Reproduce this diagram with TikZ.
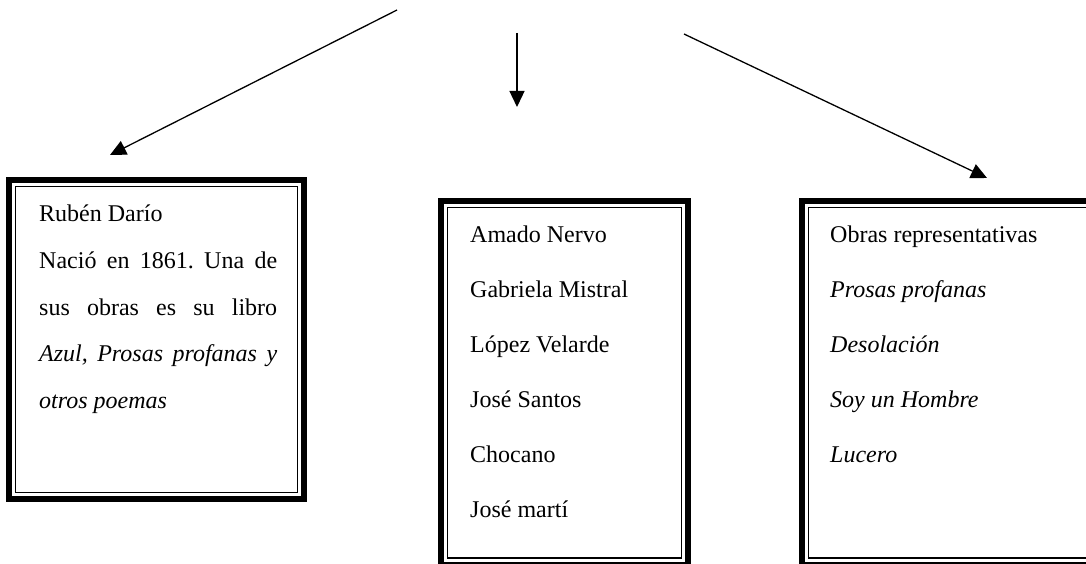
\documentclass[tikz,border=0pt]{standalone}
\usepackage{fontspec}
\setmainfont{Liberation Serif}
\usetikzlibrary{arrows.meta}
\frenchspacing
\begin{document}
\begin{tikzpicture}[x=1pt,y=-1pt,
  conn/.style={line width=1.3pt,-{Triangle[length=16pt,width=15pt]}},
  framebox/.style={draw,line width=6pt,rectangle,inner sep=0pt,outer sep=0pt},
  innerframe/.style={draw,line width=1.4pt},
  txt/.style={anchor=base west,inner sep=0pt,font=\fontsize{24}{29}\selectfont}]
\useasboundingbox (0,0) rectangle (1086,564);
\clip (0,0) rectangle (1086,564);

% frames
\node[framebox,minimum width=295pt,minimum height=319pt] (b1) at (156.5,339.5) {};
\node[framebox,minimum width=247pt,minimum height=363.5pt] (b2) at (564.5,382.75) {};
\node[framebox,minimum width=295pt,minimum height=363.5pt] (b3) at (949.5,382.75) {};
\draw[innerframe] ([xshift=6.4pt,yshift=-6.4pt]b1.north west) rectangle ([xshift=-6.4pt,yshift=6.4pt]b1.south east);
\draw[innerframe] ([xshift=6.4pt,yshift=-6.4pt]b2.north west) rectangle ([xshift=-6.4pt,yshift=6.4pt]b2.south east);
\draw[innerframe] ([xshift=6.4pt,yshift=-6.4pt]b3.north west) rectangle ([xshift=-6.4pt,yshift=6.4pt]b3.south east);

% box 1 text
\node[txt] (t11) at (39,222) {Rubén Darío};
\node[txt] (t12) at (39,268.5) {\makebox[238pt][s]{Nació en 1861. Una de}};
\node[txt] (t13) at (39,315) {\makebox[238pt][s]{sus obras es su libro}};
\node[txt] (t14) at (39,361.5) {\makebox[238pt][s]{\itshape Azul, Prosas profanas y}};
\node[txt] (t15) at (39,408) {\itshape otros poemas};

% box 2 text
\node[txt] (t21) at (470,242.5) {Amado Nervo};
\node[txt] (t22) at (470,297.5) {Gabriela Mistral};
\node[txt] (t23) at (470,352.5) {López Velarde};
\node[txt] (t24) at (470,407.5) {José Santos};
\node[txt] (t25) at (470,462.5) {Chocano};
\node[txt] (t26) at (470,517) {José martí};

% box 3 text
\node[txt] (t31) at (830,242.5) {Obras representativas};
\node[txt] (t32) at (830,297.5) {\itshape Prosas profanas};
\node[txt] (t33) at (830,352.5) {\itshape Desolación};
\node[txt] (t34) at (830,407.5) {\itshape Soy un Hombre};
\node[txt] (t35) at (830,462.5) {\itshape Lucero};

% arrows
\coordinate (s1) at (397,10);
\coordinate (e1) at (110,155);
\coordinate (s2) at (517,33);
\coordinate (e2) at (517,107);
\coordinate (s3) at (684,34);
\coordinate (e3) at (987,178);
\draw[conn] (s1) -- (e1);
\draw[conn] (s2) -- (e2);
\draw[conn] (s3) -- (e3);
\end{tikzpicture}
\end{document}
